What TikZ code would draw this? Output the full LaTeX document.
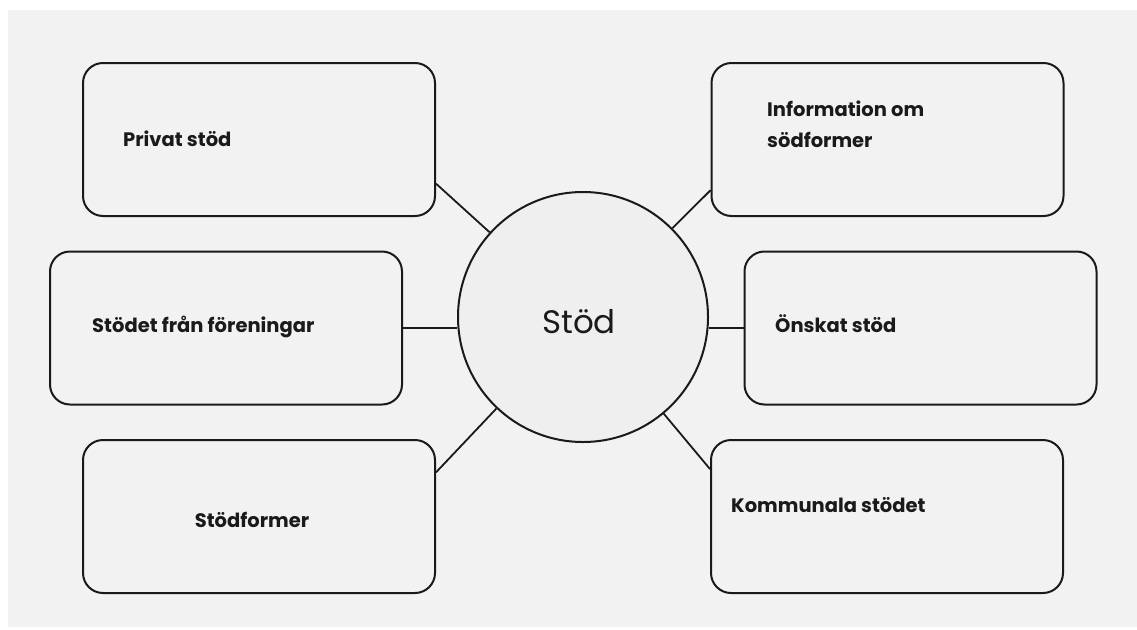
\documentclass[tikz,border=0pt]{standalone}
\usepackage{fontspec}
\setmainfont{Poppins}
\usepackage{tikz}
\usetikzlibrary{calc}

\definecolor{paper}{HTML}{F2F2F2}
\definecolor{hubfill}{HTML}{EFEFEF}
\definecolor{ink}{HTML}{1A1A1A}

\tikzset{
	topic/.style={draw=ink, line width=2pt, rounded corners=20pt,
		minimum width=352pt, minimum height=153pt, inner sep=0pt},
	topictext/.style={font=\fontsize{19.5}{31}\selectfont\bfseries, text=ink,
		inner sep=0pt, anchor=base west, align=left},
	hub/.style={draw=ink, line width=2pt, circle, fill=hubfill,
		minimum size=250pt, inner sep=0pt},
	spoke/.style={draw=ink, line width=1.8pt}
}

\begin{document}
\begin{tikzpicture}[x=1pt, y=-1pt]

	% page and paper
	\useasboundingbox (0,0) rectangle (1137,629);
	\fill[white] (0,0) rectangle (1137,629);
	\fill[paper] (8,10) rectangle (1137,627);

	% centre
	\node[hub] (hub) at (583,317) {};
	\node[font=\fontsize{32.5}{32.5}\selectfont, text=ink, inner sep=0pt, anchor=base]
		(hubtext) at (579,333) {Stöd};

	% boxes, left column
	\node[topic] (priv) at (259,139.5) {};
	\node[topic] (fore) at (226,328) {};
	\node[topic] (form) at (259,516.5) {};

	% boxes, right column
	\node[topic] (info) at (887.5,139.5) {};
	\node[topic] (onsk) at (920.5,328) {};
	\node[topic] (komm) at (887,516.5) {};

	% texts
	\node[topictext] (privtext) at (123,146) {Privat stöd};
	\node[topictext] (foretext) at (92,332) {Stödet från föreningar};
	\node[topictext, anchor=base] (formtext) at (252,527) {Stödformer};
	\node[topictext] (infotext) at (767,147) {Information om\\södformer};
	\node[topictext] (onsktext) at (775,332) {Önskat stöd};
	\node[topictext] (kommtext) at (731,512) {Kommunala stödet};

	% spokes
	\draw[spoke] (priv.-14) -- (hub);
	\draw[spoke] (info.196) -- (hub);
	\draw[spoke] (form.14) -- (hub);
	\draw[spoke] (komm.165) -- (hub);
	\draw[spoke] (fore.east) -- (fore.east -| hub.west);
	\draw[spoke] (onsk.west) -- (onsk.west -| hub.east);

\end{tikzpicture}
\end{document}
